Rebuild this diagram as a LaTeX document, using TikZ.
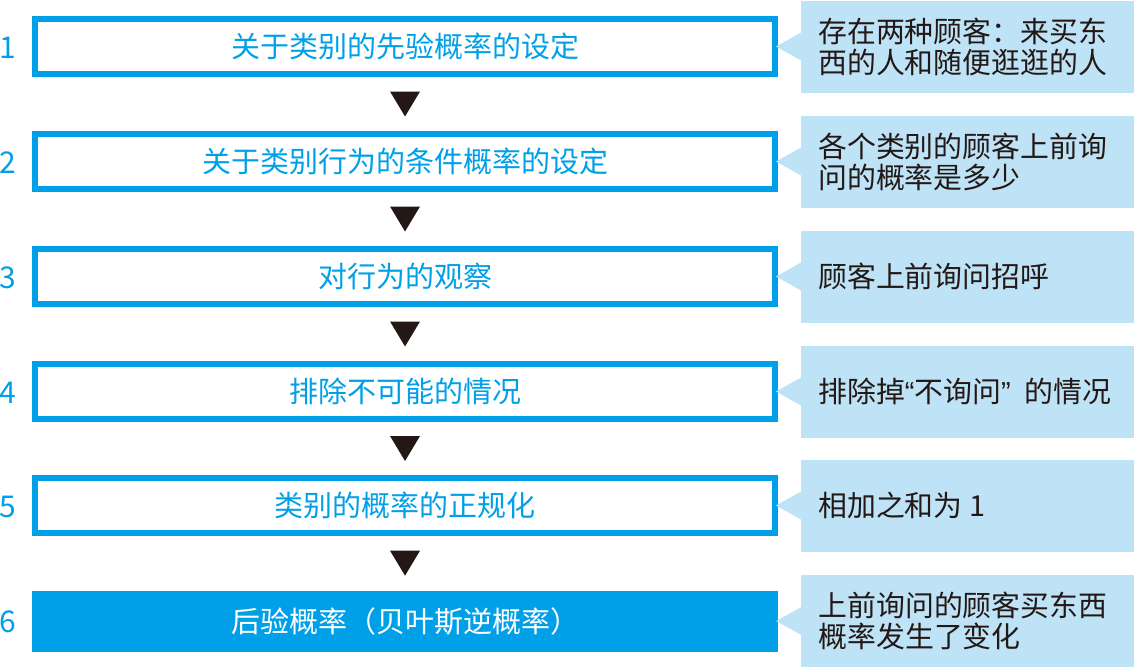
\documentclass[tikz,border=0pt]{standalone}
\usepackage{fontspec}
\setmainfont{Noto Sans CJK SC}
\newfontfamily\cjk{Noto Sans CJK SC}
\newfontfamily\latinq{Liberation Sans}
\usetikzlibrary{calc}
\definecolor{bmain}{RGB}{0,160,233}
\definecolor{blight}{RGB}{190,227,246}
\definecolor{dtext}{RGB}{35,24,21}
\tikzset{
  x=1pt,y=-1pt,
  stepbox/.style={draw=bmain,line width=6pt,fill=white,minimum width=740pt,minimum height=55pt,inner sep=0pt,
    text=bmain,font=\cjk\fontsize{29}{31}\selectfont},
  finalbox/.style={fill=bmain,minimum width=746pt,minimum height=61pt,inner sep=0pt,
    text=white,font=\cjk\fontsize{29}{31}\selectfont},
  numlabel/.style={text=bmain,font=\cjk\fontsize{30}{32}\selectfont,inner sep=0pt},
  notebox/.style={fill=blight,minimum width=333pt,minimum height=92pt,inner sep=0pt},
  notetext/.style={text=dtext,font=\cjk\fontsize{28.9}{31}\selectfont,align=left,anchor=west,inner sep=0pt},
  tri/.style={fill=dtext},
}
\begin{document}
\begin{tikzpicture}
\useasboundingbox (0,0) rectangle (1134,667);
% step boxes
\node[stepbox] (b1) at (405,46.5) {关于类别的先验概率的设定};
\node[stepbox] (b2) at (405,161.5) {关于类别行为的条件概率的设定};
\node[stepbox] (b3) at (405,276.5) {对行为的观察};
\node[stepbox] (b4) at (405,391.5) {排除不可能的情况};
\node[stepbox] (b5) at (405,505.5) {类别的概率的正规化};
\node[finalbox] (b6) at (405,621) {后验概率（贝叶斯逆概率）};
% numbers
\foreach \i in {1,...,6}{
  \node[numlabel] (n\i) at ($(b\i.west)+(-24,1)$) {\i};
}
% down triangles
\foreach \a/\b in {1/2,2/3,3/4,4/5,5/6}{
  \coordinate (m\a) at ($(b\a.south)!0.5!(b\b.north)$);
  \fill[tri] ([shift={(-15,-12.5)}]m\a) -- ++(30,0) -- ++(-15,25) -- cycle;
}
% notes
\foreach \i/\t in {1/{存在两种顾客：来买东\\西的人和随便逛逛的人},
                   2/{各个类别的顾客上前询\\问的概率是多少},
                   3/{顾客上前询问招呼},
                   4/{排除掉{\latinq “}不询问{\latinq ”}\hspace{14pt}的情况},
                   5/{相加之和为 1},
                   6/{上前询问的顾客买东西\\概率发生了变化}}{
  \node[notebox,anchor=west] (c\i) at ($(b\i.east)+(23,0)$) {};
  \fill[blight] ([yshift=-14pt]c\i.west) -- ([xshift=-25pt]c\i.west) -- ([yshift=14pt]c\i.west) -- cycle;
  \node[notetext] (t\i) at ($(c\i.west)+(17,0)$) {\t};
}
\end{tikzpicture}
\end{document}
